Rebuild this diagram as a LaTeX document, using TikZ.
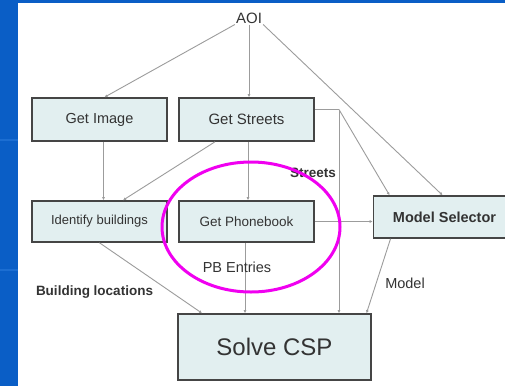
\documentclass[tikz,border=0pt]{standalone}
\usepackage{fontspec}
\setmainfont{Liberation Sans}
\usetikzlibrary{arrows.meta}
\definecolor{slideblue}{HTML}{0A5EC6}
\definecolor{slideband}{HTML}{1C6ED2}
\definecolor{boxfill}{HTML}{E2EFF0}
\definecolor{boxline}{HTML}{454545}
\definecolor{connline}{HTML}{9C9C9C}
\definecolor{txt}{HTML}{333333}
\definecolor{ring}{HTML}{F000F0}
\tikzset{
  stepbox/.style={draw=boxline, line width=1.6pt, fill=boxfill, text=txt, inner sep=0pt, align=center},
  conn/.style={draw=connline, line width=0.9pt, -{Latex[length=3pt,width=3pt]}},
  plainconn/.style={draw=connline, line width=0.9pt},
  lbl/.style={text=txt, inner sep=1pt}
}
\begin{document}
\begin{tikzpicture}[x=1pt,y=-1pt]
\useasboundingbox (0,0) rectangle (505,386);
\fill[white] (0,0) rectangle (505,386);
\fill[slideblue] (0,0) rectangle (505,3);
\fill[slideblue] (0,0) rectangle (18,386);
\fill[slideband] (0,139) rectangle (18,141);
\fill[slideband] (0,269) rectangle (18,271);

\node[lbl, font=\fontsize{15}{17}\selectfont] (aoi) at (249,18) {AOI};

\node[stepbox, minimum width=135pt, minimum height=43pt, font=\fontsize{14.5}{17}\selectfont] (gi) at (99.5,119.5) {Get Image};
\node[stepbox, minimum width=135pt, minimum height=43pt, font=\fontsize{15}{17}\selectfont] (gs) at (246.5,119.5) {Get Streets};
\node[stepbox, minimum width=135pt, minimum height=41pt, font=\fontsize{13}{15}\selectfont] (ib) at (99.5,221.5) {Identify buildings};
\node[stepbox, minimum width=135pt, minimum height=41pt, font=\fontsize{13.5}{15}\selectfont] (gp) at (246.5,221.5) {Get Phonebook};
\node[stepbox, minimum width=142pt, minimum height=42pt, font=\bfseries\fontsize{14.5}{17}\selectfont] (ms) at (444.5,217) {Model Selector};
\node[stepbox, minimum width=193pt, minimum height=66pt, font=\fontsize{24}{28}\selectfont] (csp) at (274.5,347) {Solve CSP};

\coordinate (corner) at (339,109.5);

\draw[conn] (aoi.south west) -- ([xshift=5pt]gi.north);
\draw[conn] (aoi.south) -- (aoi.south |- gs.north);
\draw[conn] (aoi.south east) -- ([xshift=-2pt]ms.north);
\draw[conn] ([xshift=4pt]gi.south) -- ([xshift=4pt]ib.north);
\draw[conn] ([xshift=-31.5pt]gs.south) -- ([xshift=23.5pt]ib.north);
\draw[conn] ([xshift=1.5pt]gs.south) -- ([xshift=1.5pt]gp.north);
\draw[plainconn] ([yshift=10pt]gs.east) -- (corner);
\draw[conn] (corner) -- (corner |- csp.north);
\draw[conn] (corner) -- ([xshift=-55pt]ms.north);
\draw[conn] (gp.east) -- (gp.east -| ms.west);
\draw[conn] ([xshift=-1.5pt]gp.south) -- ([xshift=-1.5pt]gp.south |- csp.north);
\draw[conn] (ib.south) -- ([xshift=-72.5pt]csp.north);
\draw[conn] ([xshift=-54pt]ms.south) -- ([xshift=92pt]csp.north);

\node[lbl, font=\bfseries\fontsize{13.5}{16}\selectfont] (lstreets) at (313,173) {Streets};
\node[lbl, font=\fontsize{14.5}{17}\selectfont] (lpb) at (237,267) {PB Entries};
\node[lbl, font=\bfseries\fontsize{13.5}{16}\selectfont] (lbl1) at (94.5,292) {Building locations};
\node[lbl, font=\fontsize{14.5}{17}\selectfont] (lmodel) at (405,283) {Model};

\draw[ring, line width=3pt] (251,227) ellipse [x radius=89, y radius=65];
\end{tikzpicture}
\end{document}
